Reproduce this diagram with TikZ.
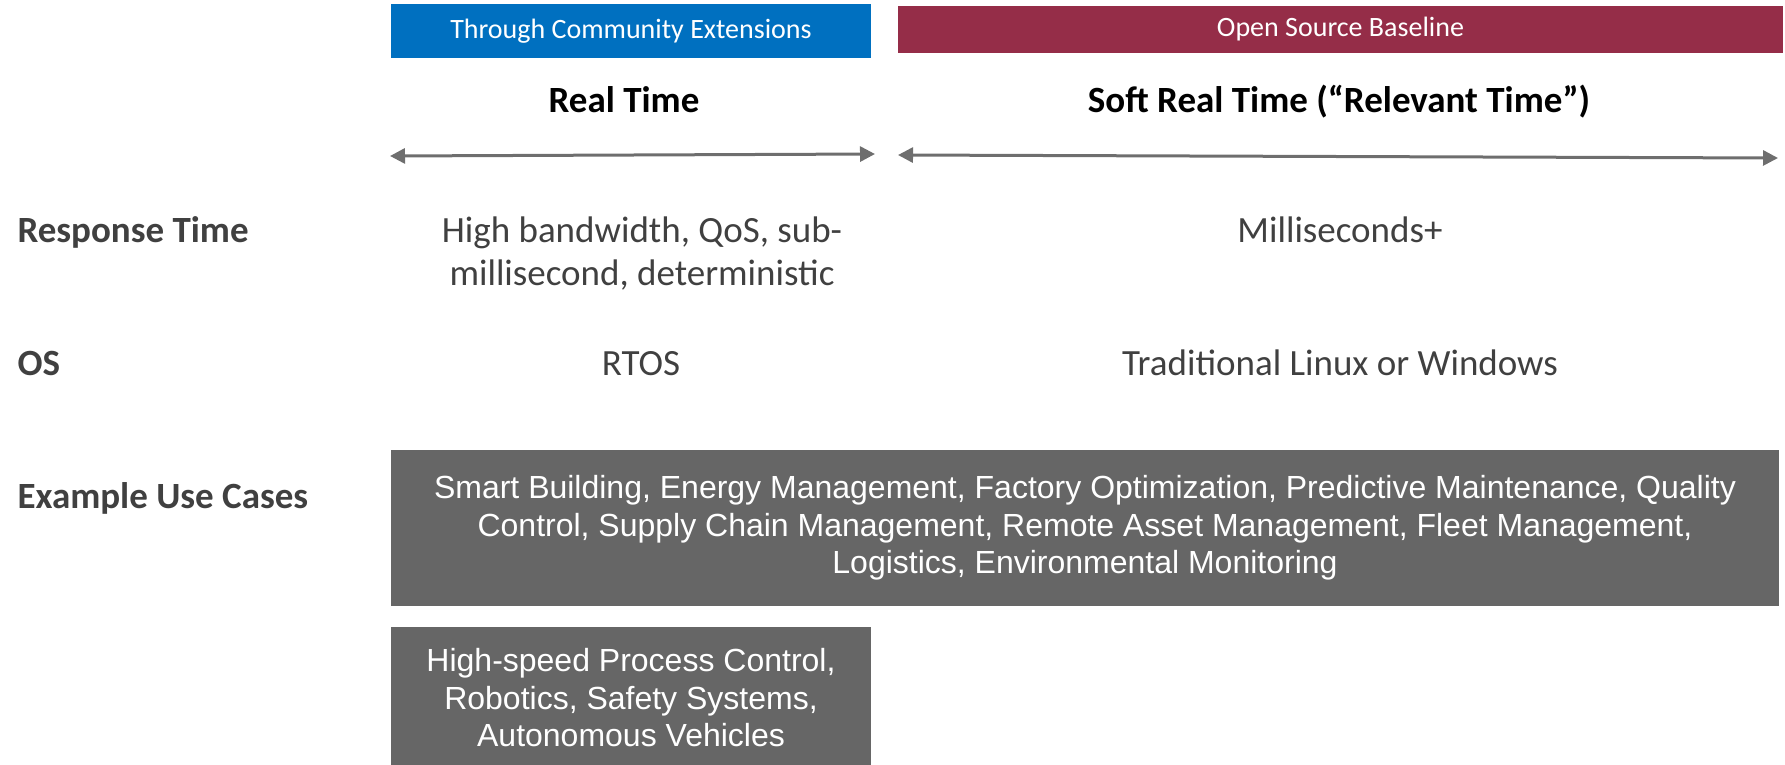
\documentclass[tikz,border=0pt]{standalone}
\usepackage{fontspec}
\usepackage{tikz}
\usepackage{xcolor}
\setmainfont{Carlito}
\newfontfamily\arialfont{Liberation Sans}
\usetikzlibrary{positioning, arrows.meta}
\definecolor{barblue}{RGB}{0, 112, 192}
\definecolor{barred}{RGB}{149, 45, 72}
\definecolor{boxgray}{RGB}{102, 102, 102}
\definecolor{labelgray}{RGB}{64, 64, 64}
\definecolor{arrowgray}{RGB}{110, 110, 110}
\tikzset{
    banner/.style={rectangle, inner sep=0pt, text=white, font=\fontsize{28}{32}\selectfont},
    colhead/.style={anchor=base, text=black, font=\bfseries\fontsize{37}{43}\selectfont},
    rowlabel/.style={anchor=base west, text=labelgray, font=\bfseries\fontsize{37}{43}\selectfont},
    cell/.style={anchor=base, align=center, text=labelgray, font=\fontsize{37}{43}\selectfont},
    usecase/.style={rectangle, fill=boxgray, inner sep=0pt, text=white, align=center, font=\arialfont\fontsize{32}{37.5}\selectfont},
    span/.style={{Triangle[length=15pt,width=15pt]}-{Triangle[length=15pt,width=15pt]}, line width=3pt, draw=arrowgray}
}

\begin{document}
\begin{tikzpicture}[x=1pt, y=-1pt]
                    \useasboundingbox (0,0) rectangle (1785,764);
                    \node[banner, fill=barblue, minimum width=480pt, minimum height=54pt] (ext) at (631,31) {Through Community Extensions};
                    \node[banner, fill=barred, minimum width=885pt, minimum height=47pt] (oss) at (1340.5,29.5) {Open Source Baseline};
                    \node[colhead] (rt) at (624,112) {Real Time};
                    \node[colhead] (srt) at (1339,112) {Soft Real Time (“Relevant Time”)};

                    \coordinate (rtl) at (390,156);
                    \coordinate (rtr) at (875,154);
                    \coordinate (srtl) at (898,155);
                    \coordinate (srtr) at (1778,158);

                    \node[rowlabel] (resp) at (14,242) {Response Time};
                    \node[rowlabel] (os) at (14,375) {OS};
                    \node[rowlabel] (uses) at (14,508) {Example Use Cases};

                    \node[cell] (rtresp) at (642,285) {High bandwidth, QoS, sub-\\millisecond, deterministic};
                    \node[cell] (srtresp) at (1340,242) {Milliseconds+};
                    \node[cell] (rtos) at (641,375) {RTOS};
                    \node[cell] (srtos) at (1340,375) {Traditional Linux or Windows};

                    \node[usecase, minimum width=1388pt, minimum height=156pt] (common) at (1085,528) {Smart Building, Energy Management, Factory Optimization, Predictive Maintenance, Quality\\Control, Supply Chain Management, Remote Asset Management, Fleet Management,\\Logistics, Environmental Monitoring};
                    \node[usecase, minimum width=480pt, minimum height=142pt] (rtonly) at (631,698) {High-speed Process Control,\\Robotics, Safety Systems,\\Autonomous Vehicles};

                    \draw[span] (rtl) -- (rtr);
                    \draw[span] (srtl) -- (srtr);
                \end{tikzpicture}
\end{document}
